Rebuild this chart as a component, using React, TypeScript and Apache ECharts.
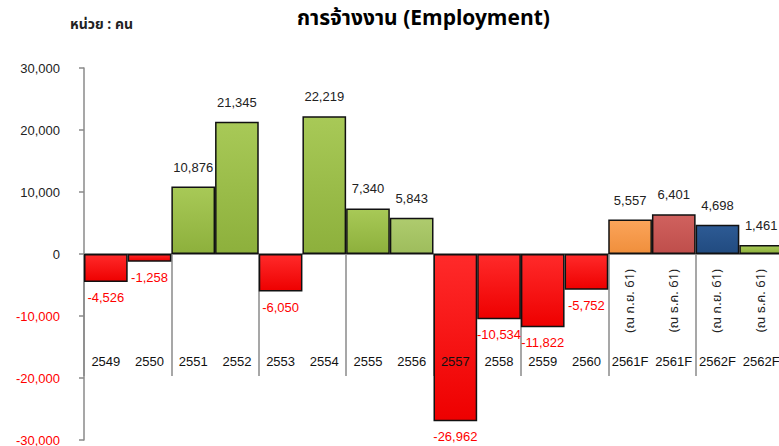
import React, { useEffect, useRef } from "react";
import * as echarts from "echarts";

const categories = ["2549", "2550", "2551", "2552", "2553", "2554", "2555", "2556", "2557", "2558", "2559", "2560", "2561F", "2561F", "2562F", "2562F"];
const subLabels = ["", "", "", "", "", "", "", "", "", "", "", "", "(ณ ก.ย. 61)", "(ณ ธ.ค. 61)", "(ณ ก.ย. 61)", "(ณ ธ.ค. 61)"];
const employment = [-4526, -1258, 10876, 21345, -6050, 22219, 7340, 5843, -26962, -10534, -11822, -5752, 5557, 6401, 4698, 1461];
const yTicks = { min: -30000, max: 30000, interval: 10000 };

const barColors: [string, string][] = [
  ["#ff2a2a", "#ee0000"], ["#ff2a2a", "#ee0000"],
  ["#a8c957", "#8db03c"], ["#a8c957", "#8db03c"],
  ["#ff2a2a", "#ee0000"],
  ["#a8c957", "#8db03c"], ["#a8c957", "#8db03c"],
  ["#aecb6e", "#9ebd5c"],
  ["#ff2a2a", "#ee0000"], ["#ff2a2a", "#ee0000"], ["#ff2a2a", "#ee0000"], ["#ff2a2a", "#ee0000"],
  ["#fba45a", "#f08f3c"], ["#d0615e", "#bf4e4b"], ["#2d5a94", "#214b80"], ["#a8c957", "#8db03c"],
];

const FONT = "'Liberation Sans', Arial, sans-serif";
const THAI = "Tahoma, 'Noto Sans Thai', 'Noto Sans', sans-serif";

const fmt = (v: number) => v.toLocaleString("en-US");

export default function App() {
  const ref = useRef<HTMLDivElement>(null);
  useEffect(() => {
    if (!ref.current) return;
    const chart = echarts.init(ref.current, undefined, { renderer: "svg" });
    const data = employment.map((v, i) => ({
      value: v,
      itemStyle: {
        color: new echarts.graphic.LinearGradient(0, 0, 0, 1, [
          { offset: 0, color: barColors[i][0] },
          { offset: 1, color: barColors[i][1] },
        ]),
      },
      label: v < 0
        ? { position: "bottom", distance: 9, color: "#ff0000" }
        : { position: "top", distance: 13, color: "#222" },
    }));
    chart.setOption({
      animation: false,
      graphic: [
        {
          type: "text", left: 297, top: 8,
          style: { text: "การจ้างงาน (Employment)", font: `bold 21px ${THAI}`, fill: "#000" },
        },
        {
          type: "text", left: 70, top: 17,
          style: { text: "หน่วย : คน", font: `bold 14px ${THAI}`, fill: "#222" },
        },
      ],
      grid: { left: 84, right: 17, top: 68, bottom: 6, containLabel: false, outerBoundsMode: "none" },
      xAxis: [
        {
          type: "category",
          data: categories,
          axisLine: { onZero: true, onZeroAxisIndex: 0, lineStyle: { color: "#8a8a8a", width: 2 } },
          axisTick: { show: true, inside: false, length: 122, lineStyle: { color: "#8a8a8a", width: 1.5 } },
          axisLabel: { show: false },
          splitLine: { show: false },
        },
        {
          type: "category",
          data: categories,
          position: "bottom",
          z: 5,
          axisLine: { show: false, onZero: false },
          axisTick: { show: false },
          axisLabel: { interval: 0, margin: -85, fontSize: 13, fontFamily: FONT, color: "#111" },
          splitLine: { show: false },
        },
        {
          type: "category",
          data: categories,
          position: "bottom",
          z: 5,
          axisLine: { show: false, onZero: false },
          axisTick: { show: false },
          axisLabel: {
            interval: 0, rotate: 90, margin: -171, fontSize: 13, fontFamily: THAI, color: "#222",
            formatter: (_v: string, idx: number) => subLabels[idx],
          },
          splitLine: { show: false },
        },
      ],
      yAxis: {
        type: "value",
        min: yTicks.min, max: yTicks.max, interval: yTicks.interval,
        axisLine: { show: true, lineStyle: { color: "#8a8a8a", width: 1.5 } },
        axisTick: { show: true, length: 5, lineStyle: { color: "#8a8a8a", width: 1.5 } },
        splitLine: { show: false },
        axisLabel: {
          margin: 24, fontSize: 13, fontFamily: FONT,
          color: (v: any) => (Number(v) < 0 ? "#ff0000" : "#222"),
          formatter: (v: number) => fmt(v),
        },
      },
      series: [
        {
          type: "bar",
          xAxisIndex: 0,
          data,
          barCategoryGap: "0%",
          itemStyle: { borderColor: "#111", borderWidth: 1.5 },
          label: {
            show: true, fontSize: 13, fontFamily: FONT,
            formatter: (p: any) => fmt(p.value),
          },
        },
      ],
    });
    return () => chart.dispose();
  }, []);
  return (
    <div style={{ position: "fixed", left: 0, top: 0, width: 779, height: 446, overflow: "hidden", background: "#fff" }}>
      <div ref={ref} style={{ width: 800, height: 446 }} />
    </div>
  );
}
